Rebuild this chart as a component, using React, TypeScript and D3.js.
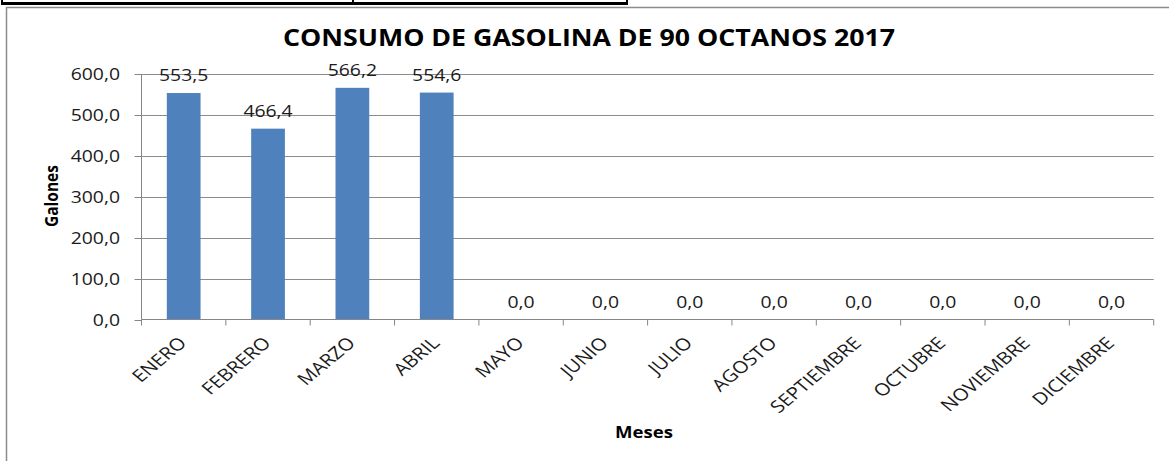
import React, { useEffect, useRef } from 'react';
import * as d3 from 'd3';

const months = [
    'ENERO', 'FEBRERO', 'MARZO', 'ABRIL', 'MAYO', 'JUNIO',
    'JULIO', 'AGOSTO', 'SEPTIEMBRE', 'OCTUBRE', 'NOVIEMBRE', 'DICIEMBRE',
];
const galones = [553.5, 466.4, 566.2, 554.6, 0, 0, 0, 0, 0, 0, 0, 0];
const yTicks = [0, 100, 200, 300, 400, 500, 600];

const title = 'CONSUMO DE GASOLINA DE 90 OCTANOS 2017';
const yTitle = 'Galones';
const xTitle = 'Meses';

const fmt = (v: number) => v.toFixed(1).replace('.', ',');

const Chart = () => {
    const chartRef = useRef<SVGSVGElement | null>(null);

    useEffect(() => {
        if (chartRef.current) {
            drawChart();
        }
    }, []);

    const drawChart = () => {
        const svg = d3.select(chartRef.current);
        svg.selectAll('*').remove();

        const font = "'Open Sans', sans-serif";
        const stretch = 1.25; // the picture is wider than it is tall
        const left = 141.5;
        const right = 1153.7;
        const top = 74;
        const bottom = 319.5;

        const x = d3.scaleBand<string>().domain(months).range([left, right]).padding(0);
        const y = d3.scaleLinear().domain([0, 600]).range([bottom, top]);
        const barW = x.bandwidth() / 2.5;

        svg.append('rect').attr('width', 1169).attr('height', 461).attr('fill', '#fff');

        // spreadsheet cell border at the top
        svg.append('line').attr('x1', 1).attr('x2', 628).attr('y1', 3.5).attr('y2', 3.5)
            .attr('stroke', '#000').attr('stroke-width', 3);
        [2, 353, 627].forEach(px => {
            svg.append('line').attr('x1', px).attr('x2', px).attr('y1', 0).attr('y2', 5)
                .attr('stroke', '#000').attr('stroke-width', 2);
        });

        // chart frame
        svg.append('rect').attr('x', 6.5).attr('y', 7.5).attr('width', 1170).attr('height', 470)
            .attr('fill', 'none').attr('stroke', '#8c8c8c').attr('stroke-width', 1.5);

        // gridlines
        svg.append('g')
            .selectAll('line')
            .data(yTicks.filter(t => t > 0))
            .enter()
            .append('line')
            .attr('x1', left)
            .attr('x2', right)
            .attr('y1', d => Math.round(y(d)) + 0.5)
            .attr('y2', d => Math.round(y(d)) + 0.5)
            .attr('stroke', '#8c8c8c');

        // bars
        svg.append('g')
            .selectAll('rect')
            .data(galones)
            .enter()
            .append('rect')
            .attr('x', (d, i) => (x(months[i]) as number) + (x.bandwidth() - barW) / 2)
            .attr('y', d => y(d))
            .attr('width', barW)
            .attr('height', d => bottom - y(d))
            .attr('fill', '#4f81bd');

        // axes lines
        svg.append('line').attr('x1', left).attr('x2', left).attr('y1', top).attr('y2', bottom)
            .attr('stroke', '#868686');
        svg.append('line').attr('x1', left).attr('x2', right).attr('y1', bottom).attr('y2', bottom)
            .attr('stroke', '#868686');

        // y ticks
        const yg = svg.append('g');
        yTicks.forEach(t => {
            const ty = Math.round(y(t)) + 0.5;
            yg.append('line').attr('x1', left - 7).attr('x2', left).attr('y1', ty).attr('y2', ty)
                .attr('stroke', '#868686');
            yg.append('text')
                .attr('transform', `translate(120, ${ty + 5.5}) scale(${stretch}, 1)`)
                .attr('text-anchor', 'end')
                .attr('font-family', font)
                .attr('font-size', 15.5)
                .attr('fill', '#1a1a1a')
                .text(fmt(t));
        });

        // x ticks at category boundaries
        const bounds = months.map(m => x(m) as number).concat([right]);
        svg.append('g')
            .selectAll('line')
            .data(bounds)
            .enter()
            .append('line')
            .attr('x1', d => d)
            .attr('x2', d => d)
            .attr('y1', bottom)
            .attr('y2', bottom + 6)
            .attr('stroke', '#868686');

        // x labels
        svg.append('g')
            .selectAll('text')
            .data(months)
            .enter()
            .append('text')
            .attr('transform', d => `translate(${(x(d) as number) + x.bandwidth() / 2 - 1}, 340) scale(1.2, 1) rotate(-45)`)
            .attr('text-anchor', 'end')
            .attr('dy', '0.35em')
            .attr('font-family', font)
            .attr('font-size', 17)
            .attr('fill', '#1a1a1a')
            .text(d => d);

        // value labels
        svg.append('g')
            .selectAll('text')
            .data(galones)
            .enter()
            .append('text')
            .attr('transform', (d, i) => `translate(${(x(months[i]) as number) + x.bandwidth() / 2}, ${y(d) - 12}) scale(${stretch}, 1)`)
            .attr('text-anchor', 'middle')
            .attr('font-family', font)
            .attr('font-size', 15.5)
            .attr('fill', '#1a1a1a')
            .text(d => fmt(d));

        // titles
        svg.append('text')
            .attr('x', 589)
            .attr('y', 46)
            .attr('text-anchor', 'middle')
            .attr('font-family', font)
            .attr('font-weight', 700)
            .attr('font-size', 23)
            .attr('textLength', 612)
            .attr('lengthAdjust', 'spacingAndGlyphs')
            .attr('fill', '#000')
            .text(title);

        svg.append('text')
            .attr('transform', 'translate(58, 196) scale(1.2, 1) rotate(-90)')
            .attr('text-anchor', 'middle')
            .attr('font-family', font)
            .attr('font-weight', 700)
            .attr('font-size', 15.5)
            .attr('fill', '#000')
            .text(yTitle);

        svg.append('text')
            .attr('transform', `translate(644, 438) scale(1.2, 1)`)
            .attr('text-anchor', 'middle')
            .attr('font-family', font)
            .attr('font-weight', 700)
            .attr('font-size', 15.5)
            .attr('fill', '#000')
            .text(xTitle);
    };

    return (
        <svg
            ref={chartRef}
            width={1169}
            height={461}
            style={{ position: 'absolute', left: 0, top: 0, display: 'block' }}
        />
    );
};

export default function App() {
    return <Chart />;
}
